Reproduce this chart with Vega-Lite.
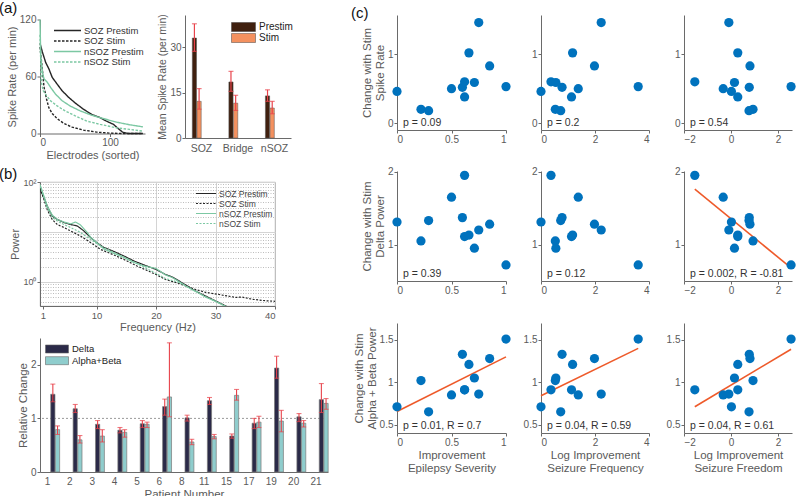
{
"$schema": "https://vega.github.io/schema/vega-lite/v6.json",
"background": "white",
"padding": {"left": -2, "top": 0, "right": 0, "bottom": 0},
"config": {
  "font": "Liberation Sans",
  "view": {"stroke": null},
  "axis": {"labelColor": "#5a5a5a", "titleColor": "#5a5a5a", "domainColor": "#6a6a6a", "tickColor": "#6a6a6a", "labelFontSize": 10, "titleFontSize": 11, "titleFontWeight": "normal", "grid": false, "tickSize": 3, "labelPadding": 1, "titlePadding": 2},
  "legend": {"padding": 0, "titleFontSize": 10},
  "title": {"fontSize": 15, "fontWeight": "normal", "color": "#111", "anchor": "start", "frame": "group"}
},
"datasets": {
  "spike": [
    {"s":"SOZ Prestim","e":0,"r":95},{"s":"SOZ Prestim","e":3.3,"r":86},{"s":"SOZ Prestim","e":8,"r":75},{"s":"SOZ Prestim","e":12.7,"r":68},{"s":"SOZ Prestim","e":17.5,"r":59},{"s":"SOZ Prestim","e":24.5,"r":52},{"s":"SOZ Prestim","e":31.6,"r":45},{"s":"SOZ Prestim","e":41,"r":38},{"s":"SOZ Prestim","e":50.5,"r":32},{"s":"SOZ Prestim","e":62,"r":25.6},{"s":"SOZ Prestim","e":74,"r":20},{"s":"SOZ Prestim","e":86,"r":16.7},{"s":"SOZ Prestim","e":95,"r":13},{"s":"SOZ Prestim","e":105,"r":9.6},{"s":"SOZ Prestim","e":112,"r":5},{"s":"SOZ Prestim","e":118,"r":1.4},{"s":"SOZ Prestim","e":126,"r":0},{"s":"SOZ Prestim","e":147,"r":0},
    {"s":"SOZ Stim","e":0,"r":91},{"s":"SOZ Stim","e":3.3,"r":68},{"s":"SOZ Stim","e":5.7,"r":49},{"s":"SOZ Stim","e":9.4,"r":36},{"s":"SOZ Stim","e":12.7,"r":27},{"s":"SOZ Stim","e":17.5,"r":21},{"s":"SOZ Stim","e":24.5,"r":15.6},{"s":"SOZ Stim","e":34,"r":10.7},{"s":"SOZ Stim","e":45.8,"r":6.7},{"s":"SOZ Stim","e":62,"r":3.6},{"s":"SOZ Stim","e":81,"r":1.4},{"s":"SOZ Stim","e":100,"r":0.4},{"s":"SOZ Stim","e":119,"r":0},{"s":"SOZ Stim","e":147,"r":0},
    {"s":"nSOZ Prestim","e":0,"r":120},{"s":"nSOZ Prestim","e":1,"r":82},{"s":"nSOZ Prestim","e":3.3,"r":65},{"s":"nSOZ Prestim","e":5.7,"r":57.5},{"s":"nSOZ Prestim","e":10.4,"r":54},{"s":"nSOZ Prestim","e":15,"r":48.7},{"s":"nSOZ Prestim","e":22,"r":41.6},{"s":"nSOZ Prestim","e":31.6,"r":34.5},{"s":"nSOZ Prestim","e":43,"r":29},{"s":"nSOZ Prestim","e":57.5,"r":23.8},{"s":"nSOZ Prestim","e":74,"r":19.2},{"s":"nSOZ Prestim","e":91,"r":15.6},{"s":"nSOZ Prestim","e":109,"r":12},{"s":"nSOZ Prestim","e":128,"r":9.2},{"s":"nSOZ Prestim","e":147,"r":7},
    {"s":"nSOZ Stim","e":0,"r":104},{"s":"nSOZ Stim","e":1.9,"r":54},{"s":"nSOZ Stim","e":4.7,"r":45},{"s":"nSOZ Stim","e":9.4,"r":39.8},{"s":"nSOZ Stim","e":15,"r":34.5},{"s":"nSOZ Stim","e":24.5,"r":29},{"s":"nSOZ Stim","e":36,"r":23.8},{"s":"nSOZ Stim","e":50.5,"r":18.5},{"s":"nSOZ Stim","e":67,"r":13},{"s":"nSOZ Stim","e":86,"r":9.6},{"s":"nSOZ Stim","e":109,"r":6},{"s":"nSOZ Stim","e":128,"r":4.3},{"s":"nSOZ Stim","e":147,"r":2.5}
  ],
  "abars": [
    {"region":"SOZ","cond":"Prestim","m":33.0,"lo":28.6,"hi":37.7},
    {"region":"SOZ","cond":"Stim","m":12.1,"lo":9.5,"hi":16.3},
    {"region":"Bridge","cond":"Prestim","m":18.5,"lo":15.4,"hi":22.0},
    {"region":"Bridge","cond":"Stim","m":11.5,"lo":9.1,"hi":14.1},
    {"region":"nSOZ","cond":"Prestim","m":13.9,"lo":12.1,"hi":15.9},
    {"region":"nSOZ","cond":"Stim","m":9.9,"lo":8.0,"hi":12.1}
  ],
  "psd": [
    {"s":"SOZ Prestim","f":0.5,"p":70.8},{"s":"SOZ Prestim","f":1.16,"p":49.0},{"s":"SOZ Prestim","f":1.71,"p":33.1},{"s":"SOZ Prestim","f":2.55,"p":20.9},{"s":"SOZ Prestim","f":3.4,"p":17.8},{"s":"SOZ Prestim","f":4.52,"p":15.5},{"s":"SOZ Prestim","f":5.63,"p":14.1},{"s":"SOZ Prestim","f":6.76,"p":13.2},{"s":"SOZ Prestim","f":7.88,"p":10.5},{"s":"SOZ Prestim","f":8.99,"p":7.76},{"s":"SOZ Prestim","f":10,"p":6.17},{"s":"SOZ Prestim","f":11.24,"p":4.9},{"s":"SOZ Prestim","f":12.92,"p":4.07},{"s":"SOZ Prestim","f":14.6,"p":3.31},{"s":"SOZ Prestim","f":16.28,"p":2.63},{"s":"SOZ Prestim","f":17.97,"p":2.19},{"s":"SOZ Prestim","f":20,"p":1.78},{"s":"SOZ Prestim","f":21.6,"p":1.41},{"s":"SOZ Prestim","f":22.7,"p":1.26},{"s":"SOZ Prestim","f":23.85,"p":1.05},{"s":"SOZ Prestim","f":25,"p":0.87},{"s":"SOZ Prestim","f":26.6,"p":0.66},{"s":"SOZ Prestim","f":28.3,"p":0.525},{"s":"SOZ Prestim","f":30,"p":0.417},{"s":"SOZ Prestim","f":31.7,"p":0.331},{"s":"SOZ Prestim","f":33,"p":0.28},
    {"s":"SOZ Stim","f":0.5,"p":74},{"s":"SOZ Stim","f":1.16,"p":44.7},{"s":"SOZ Stim","f":1.71,"p":28},{"s":"SOZ Stim","f":2.55,"p":17.8},{"s":"SOZ Stim","f":3.4,"p":14.1},{"s":"SOZ Stim","f":4.52,"p":12.3},{"s":"SOZ Stim","f":5.63,"p":10.5},{"s":"SOZ Stim","f":7.3,"p":8.3},{"s":"SOZ Stim","f":8.99,"p":6.17},{"s":"SOZ Stim","f":10.7,"p":4.47},{"s":"SOZ Stim","f":12.92,"p":3.47},{"s":"SOZ Stim","f":14.6,"p":2.82},{"s":"SOZ Stim","f":16.8,"p":2.09},{"s":"SOZ Stim","f":20,"p":1.41},{"s":"SOZ Stim","f":21.6,"p":1.12},{"s":"SOZ Stim","f":23.85,"p":0.93},{"s":"SOZ Stim","f":25,"p":0.83},{"s":"SOZ Stim","f":26.6,"p":0.71},{"s":"SOZ Stim","f":28.3,"p":0.62},{"s":"SOZ Stim","f":30.6,"p":0.56},{"s":"SOZ Stim","f":33.4,"p":0.49},{"s":"SOZ Stim","f":34.4,"p":0.5},{"s":"SOZ Stim","f":36.2,"p":0.45},{"s":"SOZ Stim","f":38.4,"p":0.42},{"s":"SOZ Stim","f":40,"p":0.41},
    {"s":"nSOZ Prestim","f":0.5,"p":89},{"s":"nSOZ Prestim","f":1.16,"p":52.5},{"s":"nSOZ Prestim","f":1.71,"p":33.1},{"s":"nSOZ Prestim","f":2.55,"p":21.9},{"s":"nSOZ Prestim","f":3.4,"p":17.8},{"s":"nSOZ Prestim","f":4.52,"p":15.8},{"s":"nSOZ Prestim","f":5.63,"p":14.5},{"s":"nSOZ Prestim","f":6.47,"p":15.8},{"s":"nSOZ Prestim","f":7.3,"p":13.8},{"s":"nSOZ Prestim","f":8.44,"p":9.8},{"s":"nSOZ Prestim","f":8.99,"p":7.9},{"s":"nSOZ Prestim","f":10,"p":6.17},{"s":"nSOZ Prestim","f":11.24,"p":4.57},{"s":"nSOZ Prestim","f":12.92,"p":3.72},{"s":"nSOZ Prestim","f":14.6,"p":3.09},{"s":"nSOZ Prestim","f":16.28,"p":2.45},{"s":"nSOZ Prestim","f":17.97,"p":2.09},{"s":"nSOZ Prestim","f":20,"p":1.86},{"s":"nSOZ Prestim","f":21.6,"p":1.38},{"s":"nSOZ Prestim","f":22.7,"p":1.23},{"s":"nSOZ Prestim","f":23.85,"p":1.02},{"s":"nSOZ Prestim","f":25,"p":0.83},{"s":"nSOZ Prestim","f":26.6,"p":0.65},{"s":"nSOZ Prestim","f":28.3,"p":0.5},{"s":"nSOZ Prestim","f":30,"p":0.41},{"s":"nSOZ Prestim","f":32.2,"p":0.3},
    {"s":"nSOZ Stim","f":0.5,"p":83},{"s":"nSOZ Stim","f":1.16,"p":47.9},{"s":"nSOZ Stim","f":1.71,"p":30},{"s":"nSOZ Stim","f":2.55,"p":19.5},{"s":"nSOZ Stim","f":3.4,"p":16.6},{"s":"nSOZ Stim","f":4.52,"p":14.1},{"s":"nSOZ Stim","f":5.63,"p":12.3},{"s":"nSOZ Stim","f":7.3,"p":9.8},{"s":"nSOZ Stim","f":8.99,"p":7.08},{"s":"nSOZ Stim","f":10.7,"p":5.25},{"s":"nSOZ Stim","f":12.92,"p":3.89},{"s":"nSOZ Stim","f":14.6,"p":3.16},{"s":"nSOZ Stim","f":16.8,"p":2.34},{"s":"nSOZ Stim","f":20,"p":1.48},{"s":"nSOZ Stim","f":21.6,"p":1.17},{"s":"nSOZ Stim","f":23.85,"p":0.98},{"s":"nSOZ Stim","f":25,"p":0.83},{"s":"nSOZ Stim","f":26.6,"p":0.66},{"s":"nSOZ Stim","f":28.3,"p":0.51},{"s":"nSOZ Stim","f":30,"p":0.41},{"s":"nSOZ Stim","f":31.6,"p":0.33},{"s":"nSOZ Stim","f":33,"p":0.28}
  ],
  "bbars": [
    {"patient":"1","band":"Delta","v":1.45,"lo":1.31,"hi":1.64},{"patient":"1","band":"Alpha+Beta","v":0.79,"lo":0.70,"hi":0.86},
    {"patient":"2","band":"Delta","v":1.18,"lo":1.11,"hi":1.26},{"patient":"2","band":"Alpha+Beta","v":0.60,"lo":0.54,"hi":0.68},
    {"patient":"3","band":"Delta","v":0.89,"lo":0.81,"hi":0.96},{"patient":"3","band":"Alpha+Beta","v":0.67,"lo":0.56,"hi":0.79},
    {"patient":"4","band":"Delta","v":0.78,"lo":0.73,"hi":0.83},{"patient":"4","band":"Alpha+Beta","v":0.74,"lo":0.65,"hi":0.79},
    {"patient":"5","band":"Delta","v":0.90,"lo":0.83,"hi":0.96},{"patient":"5","band":"Alpha+Beta","v":0.89,"lo":0.83,"hi":0.93},
    {"patient":"6","band":"Delta","v":1.22,"lo":1.06,"hi":1.36},{"patient":"6","band":"Alpha+Beta","v":1.40,"lo":1.03,"hi":2.41},
    {"patient":"8","band":"Delta","v":1.01,"lo":0.95,"hi":1.06},{"patient":"8","band":"Alpha+Beta","v":0.56,"lo":0.51,"hi":0.61},
    {"patient":"11","band":"Delta","v":1.33,"lo":1.26,"hi":1.39},{"patient":"11","band":"Alpha+Beta","v":0.66,"lo":0.62,"hi":0.70},
    {"patient":"15","band":"Delta","v":0.67,"lo":0.63,"hi":0.71},{"patient":"15","band":"Alpha+Beta","v":1.43,"lo":1.34,"hi":1.54},
    {"patient":"17","band":"Delta","v":0.91,"lo":0.81,"hi":1.00},{"patient":"17","band":"Alpha+Beta","v":0.93,"lo":0.83,"hi":1.04},
    {"patient":"19","band":"Delta","v":1.94,"lo":1.75,"hi":2.16},{"patient":"19","band":"Alpha+Beta","v":0.95,"lo":0.75,"hi":1.15},
    {"patient":"20","band":"Delta","v":1.03,"lo":0.94,"hi":1.09},{"patient":"20","band":"Alpha+Beta","v":0.91,"lo":0.84,"hi":0.96},
    {"patient":"21","band":"Delta","v":1.35,"lo":1.11,"hi":1.65},{"patient":"21","band":"Alpha+Beta","v":1.28,"lo":1.17,"hi":1.37}
  ],
  "pts": [
    {"id":"A","sev":0,"freq":0,"free":0.02,"spike":0.46,"delta":1.31,"ab":0.71},
    {"id":"B","sev":0.22,"freq":0.53,"free":0.94,"spike":0.20,"delta":1.05,"ab":1.02},
    {"id":"C","sev":0.29,"freq":0.73,"free":0.77,"spike":0.18,"delta":1.33,"ab":0.65},
    {"id":"D","sev":0.50,"freq":1.38,"free":-0.33,"spike":0.50,"delta":1.65,"ab":0.85},
    {"id":"E","sev":0.60,"freq":0.78,"free":0.78,"spike":0.52,"delta":1.37,"ab":1.33},
    {"id":"F","sev":1.0,"freq":3.6,"free":2.56,"spike":0.53,"delta":0.72,"ab":1.51},
    {"id":"G","sev":0.62,"freq":0.37,"free":-1.54,"spike":0.60,"delta":1.95,"ab":0.91},
    {"id":"H","sev":0.71,"freq":0.55,"free":0.15,"spike":0.59,"delta":0.95,"ab":1.05},
    {"id":"I","sev":0.62,"freq":1.13,"free":0.29,"spike":0.38,"delta":1.11,"ab":0.91},
    {"id":"J","sev":0.66,"freq":1.17,"free":0.29,"spike":1.02,"delta":1.13,"ab":1.21},
    {"id":"K","sev":0.75,"freq":2.23,"free":-0.09,"spike":1.46,"delta":1.20,"ab":0.86},
    {"id":"L","sev":0.85,"freq":1.98,"free":0.81,"spike":0.83,"delta":1.28,"ab":1.28}
  ]
},
"spacing": 22,
"resolve": {"scale": {"color": "independent", "strokeDash": "independent"}, "legend": {"color": "independent", "strokeDash": "independent"}},
"hconcat": [
  {
    "spacing": 5,
    "resolve": {"scale": {"color": "independent", "strokeDash": "independent"}, "legend": {"color": "independent", "strokeDash": "independent"}},
    "vconcat": [
      {
        "bounds": "flush",
        "spacing": 40,
        "center": true,
        "resolve": {"scale": {"color": "independent", "strokeDash": "independent"}, "legend": {"color": "independent", "strokeDash": "independent"}},
        "hconcat": [
          {
            "width": 105, "height": 114,
            "title": {"text": "(a)", "dx": -41, "offset": -1},
            "data": {"name": "spike"},
            "mark": {"type": "line", "strokeWidth": 1.4},
            "encoding": {
              "x": {"field": "e", "type": "quantitative", "scale": {"domain": [0, 150], "nice": false}, "axis": {"values": [0, 100], "title": "Electrodes (sorted)"}},
              "y": {"field": "r", "type": "quantitative", "scale": {"domain": [0, 120], "nice": false}, "axis": {"values": [0, 60, 120], "title": "Spike Rate (per min)"}},
              "color": {"field": "s", "type": "nominal", "scale": {"domain": ["SOZ Prestim", "SOZ Stim", "nSOZ Prestim", "nSOZ Stim"], "range": ["#262626", "#262626", "#7cc8a3", "#7cc8a3"]},
                "legend": {"title": null, "orient": "none", "legendX": 13, "legendY": 6, "symbolType": "stroke", "symbolSize": 729, "symbolStrokeWidth": 1.5, "clipHeight": 10, "rowPadding": 0.5, "labelFontSize": 9.5, "labelColor": "#333", "labelOffset": 2}},
              "strokeDash": {"field": "s", "type": "nominal", "scale": {"domain": ["SOZ Prestim", "SOZ Stim", "nSOZ Prestim", "nSOZ Stim"], "range": [[1, 0], [2.5, 1.5], [1, 0], [2.5, 1.5]]},
                "legend": {"title": null, "orient": "none", "legendX": 13, "legendY": 6, "symbolType": "stroke", "symbolSize": 729, "symbolStrokeWidth": 1.5, "clipHeight": 10, "rowPadding": 0.5, "labelFontSize": 9.5, "labelColor": "#333", "labelOffset": 2}}
            }
          },
          {
            "width": 106, "height": 123,
            "data": {"name": "abars"},
            "layer": [
              {"mark": {"type": "bar", "stroke": "#555", "strokeWidth": 0.5},
               "encoding": {
                 "x": {"field": "region", "type": "nominal", "sort": null, "scale": {"paddingInner": 0.5, "paddingOuter": 0.2}, "axis": {"title": null, "labelAngle": 0, "ticks": false, "labelFontSize": 10.5, "labelPadding": 5}},
                 "xOffset": {"field": "cond", "type": "nominal", "sort": null, "scale": {"paddingInner": 0.1}},
                 "y": {"field": "m", "type": "quantitative", "title": "Mean Spike Rate (per min)", "scale": {"domain": [0, 40.6], "nice": false}, "axis": {"values": [0, 15, 30], "titleFontSize": 10.5}},
                 "color": {"field": "cond", "type": "nominal", "sort": null, "scale": {"domain": ["Prestim", "Stim"], "range": ["#40200f", "#f4915f"]},
                   "legend": {"title": null, "orient": "none", "legendX": 46, "legendY": 7, "symbolType": "M-1,-0.38H1V0.38H-1Z", "symbolSize": 576, "symbolStrokeColor": "#444", "symbolStrokeWidth": 0.5, "clipHeight": 10, "rowPadding": 1, "labelFontSize": 10, "labelColor": "#222", "labelOffset": 3}}
               }},
              {"mark": {"type": "rule", "color": "#e8434b", "strokeWidth": 1.2},
               "encoding": {
                 "x": {"field": "region", "type": "nominal", "sort": null},
                 "xOffset": {"field": "cond", "type": "nominal", "sort": null},
                 "y": {"field": "lo", "type": "quantitative", "title": "Mean Spike Rate (per min)"}, "y2": {"field": "hi"}}},
              {"mark": {"type": "tick", "color": "#e8434b", "size": 5, "thickness": 1.2},
               "encoding": {
                 "x": {"field": "region", "type": "nominal", "sort": null},
                 "xOffset": {"field": "cond", "type": "nominal", "sort": null},
                 "y": {"field": "lo", "type": "quantitative", "title": "Mean Spike Rate (per min)"}}},
              {"mark": {"type": "tick", "color": "#e8434b", "size": 5, "thickness": 1.2},
               "encoding": {
                 "x": {"field": "region", "type": "nominal", "sort": null},
                 "xOffset": {"field": "cond", "type": "nominal", "sort": null},
                 "y": {"field": "hi", "type": "quantitative", "title": "Mean Spike Rate (per min)"}}}
            ]
          }
        ]
      },
      {
        "bounds": "flush",
        "spacing": 32,
        "resolve": {"scale": {"color": "independent", "strokeDash": "independent"}, "legend": {"color": "independent", "strokeDash": "independent"}},
        "vconcat": [
          {
            "width": 235, "height": 124,
            "view": {"stroke": "#9a9a9a", "strokeWidth": 0.8},
            "title": {"text": "(b)", "dx": -41, "offset": -4},
            "data": {"name": "psd"},
            "mark": {"type": "line", "strokeWidth": 1.2, "clip": true},
            "encoding": {
              "x": {"field": "f", "type": "quantitative", "scale": {"domain": [0.5, 40], "nice": false, "zero": false},
                "axis": {"values": [1, 10, 20, 30, 40], "title": "Frequency (Hz)", "grid": true, "gridColor": "#d4d4d4", "gridOpacity": {"condition": {"test": "datum.value == 1 || datum.value == 40", "value": 0}, "value": 1}, "labelFontSize": 9.5}},
              "y": {"field": "p", "type": "quantitative", "scale": {"type": "log", "domain": [0.33, 100], "nice": false},
                "axis": {"values": [0.4, 0.5, 0.6, 0.7, 0.8, 0.9, 1, 2, 3, 4, 5, 6, 7, 8, 9, 10, 20, 30, 40, 50, 60, 70, 80, 90, 100], "title": "Power", "grid": true,
                  "gridColor": {"condition": {"test": "datum.value == 1 || datum.value == 10 || datum.value == 100", "value": "#d4d4d4"}, "value": "#bdbdbd"},
                  "gridDash": {"condition": {"test": "datum.value == 1 || datum.value == 10 || datum.value == 100", "value": []}, "value": [1, 1.5]},
                  "tickOpacity": {"condition": {"test": "datum.value == 1 || datum.value == 100", "value": 1}, "value": 0},
                  "labelExpr": "datum.value == 100 ? '10²' : (datum.value == 1 ? '10⁰' : '')", "labelFontSize": 9}},
              "color": {"field": "s", "type": "nominal", "scale": {"domain": ["SOZ Prestim", "SOZ Stim", "nSOZ Prestim", "nSOZ Stim"], "range": ["#262626", "#262626", "#7cc8a3", "#7cc8a3"]},
                "legend": {"title": null, "orient": "none", "legendX": 155, "legendY": 7, "symbolType": "stroke", "symbolSize": 400, "symbolStrokeWidth": 1.2, "clipHeight": 9, "rowPadding": 1, "labelFontSize": 8.5, "labelColor": "#444", "labelOffset": 2}},
              "strokeDash": {"field": "s", "type": "nominal", "scale": {"domain": ["SOZ Prestim", "SOZ Stim", "nSOZ Prestim", "nSOZ Stim"], "range": [[1, 0], [2, 1.5], [1, 0], [2, 1.5]]},
                "legend": {"title": null, "orient": "none", "legendX": 155, "legendY": 7, "symbolType": "stroke", "symbolSize": 400, "symbolStrokeWidth": 1.2, "clipHeight": 9, "rowPadding": 1, "labelFontSize": 8.5, "labelColor": "#444", "labelOffset": 2}}
            }
          },
          {
            "width": 288, "height": 134,
            "layer": [
              {"data": {"values": [{}]}, "mark": {"type": "rule", "color": "#9a9a9a", "strokeDash": [2, 2], "strokeWidth": 1},
               "encoding": {"y": {"datum": 1}}},
              {"data": {"name": "bbars"}, "mark": {"type": "bar", "stroke": "#7a7a7a", "strokeWidth": 0.7},
               "encoding": {
                 "x": {"field": "patient", "type": "nominal", "sort": null, "scale": {"paddingInner": 0.45, "paddingOuter": 0.16, "align": 0.19}, "axis": {"title": "Patient Number", "labelAngle": 0, "ticks": false, "labelPadding": 4, "labelFontSize": 10, "titleFontSize": 11.5}},
                 "xOffset": {"field": "band", "type": "nominal", "sort": null, "scale": {"paddingInner": 0.06}},
                 "y": {"field": "v", "type": "quantitative", "title": "Relative Change", "scale": {"domain": [0, 2.5], "nice": false}, "axis": {"values": [0, 1, 2], "format": "~g", "titleFontSize": 11.5}},
                 "color": {"field": "band", "type": "nominal", "sort": null, "scale": {"domain": ["Delta", "Alpha+Beta"], "range": ["#2b2a48", "#8fcdcd"]},
                   "legend": {"title": null, "orient": "none", "legendX": 5, "legendY": 6, "symbolType": "M-1,-0.35H1V0.35H-1Z", "symbolSize": 529, "symbolStrokeColor": "#666", "symbolStrokeWidth": 0.6, "clipHeight": 10, "rowPadding": 1.7, "labelFontSize": 9.5, "labelColor": "#222", "labelOffset": 3}}
               }},
              {"data": {"name": "bbars"}, "mark": {"type": "rule", "color": "#e8434b", "strokeWidth": 1.1},
               "encoding": {
                 "x": {"field": "patient", "type": "nominal", "sort": null},
                 "xOffset": {"field": "band", "type": "nominal", "sort": null},
                 "y": {"field": "lo", "type": "quantitative", "title": "Relative Change"}, "y2": {"field": "hi"}}},
              {"data": {"name": "bbars"}, "mark": {"type": "tick", "color": "#e8434b", "size": 5, "thickness": 1.1},
               "encoding": {
                 "x": {"field": "patient", "type": "nominal", "sort": null},
                 "xOffset": {"field": "band", "type": "nominal", "sort": null},
                 "y": {"field": "lo", "type": "quantitative", "title": "Relative Change"}}},
              {"data": {"name": "bbars"}, "mark": {"type": "tick", "color": "#e8434b", "size": 5, "thickness": 1.1},
               "encoding": {
                 "x": {"field": "patient", "type": "nominal", "sort": null},
                 "xOffset": {"field": "band", "type": "nominal", "sort": null},
                 "y": {"field": "hi", "type": "quantitative", "title": "Relative Change"}}}
            ]
          }
        ]
      }
    ]
  },
  {
    "spacing": 22,
    "vconcat": [
      {
        "bounds": "flush", "spacing": 35,
        "hconcat": [
          {"width": 109, "height": 115,
           "title": {"text": "(c)", "dx": -46, "offset": -6},
           "layer": [
             {"data": {"name": "pts"}, "mark": {"type": "circle", "size": 85, "color": "#0072BD", "opacity": 1},
              "encoding": {
                "x": {"field": "sev", "type": "quantitative", "title": null, "scale": {"domain": [0, 1], "nice": false, "zero": false}, "axis": {"values": [0, 0.5, 1], "format": "~g"}},
                "y": {"field": "spike", "type": "quantitative", "title": ["Change with Stim", "Spike Rate"], "scale": {"domain": [-0.1, 1.57], "nice": false, "zero": false}, "axis": {"values": [0, 1], "format": "~g", "titleFontSize": 11.5, "titleLineHeight": 13}}}},
             {"data": {"values": [{"t": "p = 0.09"}]}, "mark": {"type": "text", "align": "left", "baseline": "middle", "dx": 6, "dy": -7, "fontSize": 10.5, "color": "#333"},
              "encoding": {"x": {"datum": 0}, "y": {"datum": -0.1}, "text": {"field": "t"}}}
           ]},
          {"width": 108, "height": 115,
           "layer": [
             {"data": {"name": "pts"}, "mark": {"type": "circle", "size": 85, "color": "#0072BD", "opacity": 1},
              "encoding": {
                "x": {"field": "freq", "type": "quantitative", "title": null, "scale": {"domain": [0, 4], "nice": false, "zero": false}, "axis": {"values": [0, 2, 4], "format": "~g"}},
                "y": {"field": "spike", "type": "quantitative", "title": null, "scale": {"domain": [-0.1, 1.57], "nice": false, "zero": false}, "axis": {"values": [0, 1], "format": "~g"}}}},
             {"data": {"values": [{"t": "p = 0.2"}]}, "mark": {"type": "text", "align": "left", "baseline": "middle", "dx": 6, "dy": -7, "fontSize": 10.5, "color": "#333"},
              "encoding": {"x": {"datum": 0}, "y": {"datum": -0.1}, "text": {"field": "t"}}}
           ]},
          {"width": 108, "height": 115,
           "layer": [
             {"data": {"name": "pts"}, "mark": {"type": "circle", "size": 85, "color": "#0072BD", "opacity": 1},
              "encoding": {
                "x": {"field": "free", "type": "quantitative", "title": null, "scale": {"domain": [-2, 2.6], "nice": false, "zero": false}, "axis": {"values": [-2, 0, 2], "format": "~g"}},
                "y": {"field": "spike", "type": "quantitative", "title": null, "scale": {"domain": [-0.1, 1.57], "nice": false, "zero": false}, "axis": {"values": [0, 1], "format": "~g"}}}},
             {"data": {"values": [{"t": "p = 0.54"}]}, "mark": {"type": "text", "align": "left", "baseline": "middle", "dx": 6, "dy": -7, "fontSize": 10.5, "color": "#333"},
              "encoding": {"x": {"datum": -2}, "y": {"datum": -0.1}, "text": {"field": "t"}}}
           ]}
        ]
      },
      {
        "spacing": 28,
        "vconcat": [
      {
        "bounds": "flush", "spacing": 35,
        "hconcat": [
          {"width": 109, "height": 110,
           "layer": [
             {"data": {"name": "pts"}, "mark": {"type": "circle", "size": 85, "color": "#0072BD", "opacity": 1},
              "encoding": {
                "x": {"field": "sev", "type": "quantitative", "title": null, "scale": {"domain": [0, 1], "nice": false, "zero": false}, "axis": {"values": [0, 0.5, 1], "format": "~g"}},
                "y": {"field": "delta", "type": "quantitative", "title": ["Change with Stim", "Delta Power"], "scale": {"domain": [0.5, 2.01], "nice": false, "zero": false}, "axis": {"values": [1, 2], "format": "~g", "titleFontSize": 11.5, "titleLineHeight": 13}}}},
             {"data": {"values": [{"t": "p = 0.39"}]}, "mark": {"type": "text", "align": "left", "baseline": "middle", "dx": 6, "dy": -7, "fontSize": 10.5, "color": "#333"},
              "encoding": {"x": {"datum": 0}, "y": {"datum": 0.5}, "text": {"field": "t"}}}
           ]},
          {"width": 108, "height": 110,
           "layer": [
             {"data": {"name": "pts"}, "mark": {"type": "circle", "size": 85, "color": "#0072BD", "opacity": 1},
              "encoding": {
                "x": {"field": "freq", "type": "quantitative", "title": null, "scale": {"domain": [0, 4], "nice": false, "zero": false}, "axis": {"values": [0, 2, 4], "format": "~g"}},
                "y": {"field": "delta", "type": "quantitative", "title": null, "scale": {"domain": [0.5, 2.01], "nice": false, "zero": false}, "axis": {"values": [1, 2], "format": "~g"}}}},
             {"data": {"values": [{"t": "p = 0.12"}]}, "mark": {"type": "text", "align": "left", "baseline": "middle", "dx": 6, "dy": -7, "fontSize": 10.5, "color": "#333"},
              "encoding": {"x": {"datum": 0}, "y": {"datum": 0.5}, "text": {"field": "t"}}}
           ]},
          {"width": 108, "height": 110,
           "layer": [
             {"data": {"values": [{"free": -1.54, "delta": 1.76}, {"free": 2.56, "delta": 0.68}]}, "mark": {"type": "line", "color": "#ee5a2a", "strokeWidth": 1.6},
              "encoding": {
                "x": {"field": "free", "type": "quantitative", "title": null, "scale": {"domain": [-2, 2.6], "nice": false, "zero": false}, "axis": {"values": [-2, 0, 2], "format": "~g"}},
                "y": {"field": "delta", "type": "quantitative", "title": null, "scale": {"domain": [0.5, 2.01], "nice": false, "zero": false}, "axis": {"values": [1, 2], "format": "~g"}}}},
             {"data": {"name": "pts"}, "mark": {"type": "circle", "size": 85, "color": "#0072BD", "opacity": 1},
              "encoding": {
                "x": {"field": "free", "type": "quantitative", "title": null},
                "y": {"field": "delta", "type": "quantitative", "title": null}}},
             {"data": {"values": [{"t": "p = 0.002, R = -0.81"}]}, "mark": {"type": "text", "align": "left", "baseline": "middle", "dx": 6, "dy": -7, "fontSize": 10.5, "color": "#333"},
              "encoding": {"x": {"datum": -2}, "y": {"datum": 0.5}, "text": {"field": "t"}}}
           ]}
        ]
      },
      {
        "bounds": "flush", "spacing": 35,
        "hconcat": [
          {"width": 109, "height": 110,
           "layer": [
             {"data": {"values": [{"sev": 0, "ab": 0.655}, {"sev": 1, "ab": 1.30}]}, "mark": {"type": "line", "color": "#ee5a2a", "strokeWidth": 1.6},
              "encoding": {
                "x": {"field": "sev", "type": "quantitative", "title": ["Improvement", "Epilepsy Severity"], "scale": {"domain": [0, 1], "nice": false, "zero": false}, "axis": {"values": [0, 0.5, 1], "format": "~g", "titleFontSize": 11.5, "titleLineHeight": 13}},
                "y": {"field": "ab", "type": "quantitative", "title": ["Change with Stim", "Alpha + Beta Power"], "scale": {"domain": [0.4, 1.7], "nice": false, "zero": false}, "axis": {"values": [0.5, 1, 1.5], "format": "~g", "titleFontSize": 11.5, "titleLineHeight": 13}}}},
             {"data": {"name": "pts"}, "mark": {"type": "circle", "size": 85, "color": "#0072BD", "opacity": 1},
              "encoding": {
                "x": {"field": "sev", "type": "quantitative", "title": ["Improvement", "Epilepsy Severity"]},
                "y": {"field": "ab", "type": "quantitative", "title": ["Change with Stim", "Alpha + Beta Power"]}}},
             {"data": {"values": [{"t": "p = 0.01, R = 0.7"}]}, "mark": {"type": "text", "align": "left", "baseline": "middle", "dx": 6, "dy": -7, "fontSize": 10.5, "color": "#333"},
              "encoding": {"x": {"datum": 0}, "y": {"datum": 0.4}, "text": {"field": "t"}}}
           ]},
          {"width": 108, "height": 110,
           "layer": [
             {"data": {"values": [{"freq": 0, "ab": 0.84}, {"freq": 3.6, "ab": 1.40}]}, "mark": {"type": "line", "color": "#ee5a2a", "strokeWidth": 1.6},
              "encoding": {
                "x": {"field": "freq", "type": "quantitative", "title": ["Log Improvement", "Seizure Frequency"], "scale": {"domain": [0, 4], "nice": false, "zero": false}, "axis": {"values": [0, 2, 4], "format": "~g", "titleFontSize": 11.5, "titleLineHeight": 13}},
                "y": {"field": "ab", "type": "quantitative", "title": null, "scale": {"domain": [0.4, 1.7], "nice": false, "zero": false}, "axis": {"values": [0.5, 1, 1.5], "format": "~g"}}}},
             {"data": {"name": "pts"}, "mark": {"type": "circle", "size": 85, "color": "#0072BD", "opacity": 1},
              "encoding": {
                "x": {"field": "freq", "type": "quantitative", "title": ["Log Improvement", "Seizure Frequency"]},
                "y": {"field": "ab", "type": "quantitative", "title": null}}},
             {"data": {"values": [{"t": "p = 0.04, R = 0.59"}]}, "mark": {"type": "text", "align": "left", "baseline": "middle", "dx": 6, "dy": -7, "fontSize": 10.5, "color": "#333"},
              "encoding": {"x": {"datum": 0}, "y": {"datum": 0.4}, "text": {"field": "t"}}}
           ]},
          {"width": 108, "height": 110,
           "layer": [
             {"data": {"values": [{"free": -1.54, "ab": 0.71}, {"free": 2.56, "ab": 1.39}]}, "mark": {"type": "line", "color": "#ee5a2a", "strokeWidth": 1.6},
              "encoding": {
                "x": {"field": "free", "type": "quantitative", "title": ["Log Improvement", "Seizure Freedom"], "scale": {"domain": [-2, 2.6], "nice": false, "zero": false}, "axis": {"values": [-2, 0, 2], "format": "~g", "titleFontSize": 11.5, "titleLineHeight": 13}},
                "y": {"field": "ab", "type": "quantitative", "title": null, "scale": {"domain": [0.4, 1.7], "nice": false, "zero": false}, "axis": {"values": [0.5, 1, 1.5], "format": "~g"}}}},
             {"data": {"name": "pts"}, "mark": {"type": "circle", "size": 85, "color": "#0072BD", "opacity": 1},
              "encoding": {
                "x": {"field": "free", "type": "quantitative", "title": ["Log Improvement", "Seizure Freedom"]},
                "y": {"field": "ab", "type": "quantitative", "title": null}}},
             {"data": {"values": [{"t": "p = 0.04, R = 0.61"}]}, "mark": {"type": "text", "align": "left", "baseline": "middle", "dx": 6, "dy": -7, "fontSize": 10.5, "color": "#333"},
              "encoding": {"x": {"datum": -2}, "y": {"datum": 0.4}, "text": {"field": "t"}}}
           ]}
        ]
      }
        ]
      }
    ]
  }
]
}
